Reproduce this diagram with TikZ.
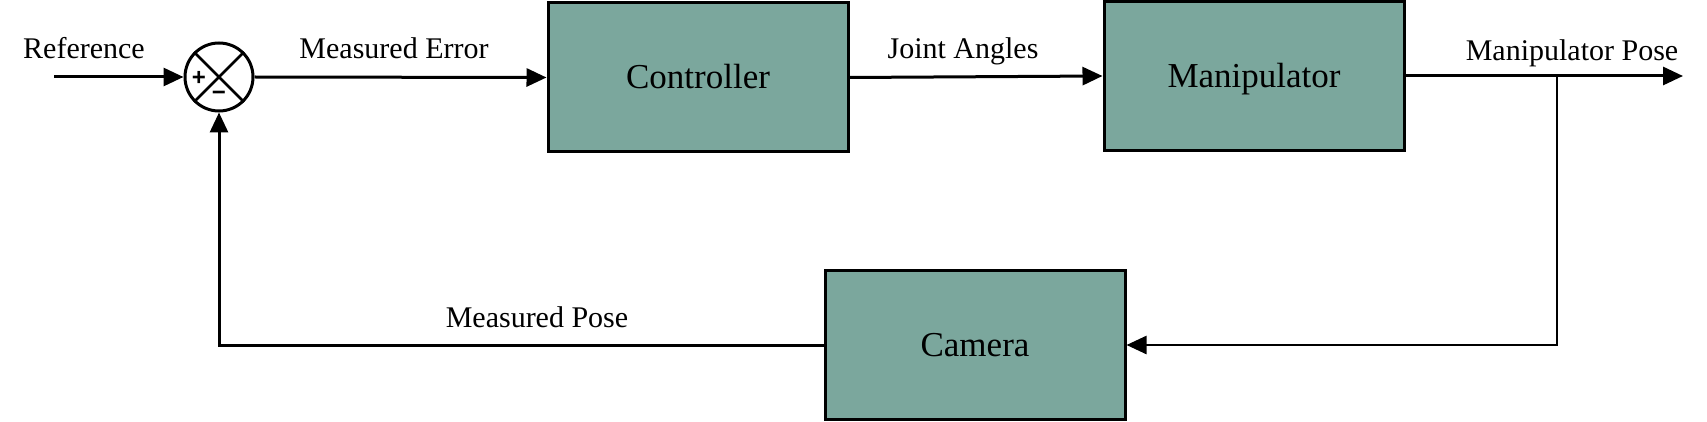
\documentclass[tikz,border=0pt]{standalone}
\usepackage{fontspec}
\setmainfont{Liberation Serif}
\setsansfont{Liberation Sans}
\usetikzlibrary{arrows.meta}
\definecolor{boxgreen}{RGB}{123,167,157}
\begin{document}
\begin{tikzpicture}[x=1pt,y=-1pt,
  blk/.style={draw,line width=3pt,fill=boxgreen,minimum width=300pt,minimum height=149pt,inner sep=0,text height=23pt,text depth=0pt,font=\fontsize{35}{40}\selectfont},
  lbl/.style={font=\fontsize{30}{36}\selectfont,inner sep=0,text height=20pt,text depth=0pt},
  sgn/.style={font=\fontsize{24}{28}\selectfont\sffamily\bfseries,inner sep=0},
  conn/.style={line width=3pt,-{Triangle[length=20pt,width=18pt]}},
  ]
\useasboundingbox (0,0) rectangle (1707,422);
% blocks
\node[blk] (ctrl) at (698,77.5) {Controller};
\node[blk] (manip) at (1254,76) {Manipulator};
\node[blk] (cam) at (975,345) {Camera};
% summing junction
\node[circle,draw,line width=3pt,minimum size=68pt,inner sep=0,fill=white] (sum) at (219,77) {};
\draw[line width=2.5pt] (sum.north west) -- (sum.south east);
\draw[line width=2.5pt] (sum.north east) -- (sum.south west);
\node[sgn] (plus) at (199,78) {+};
\node[sgn] (minus) at (219,96) {\textminus};
% coordinates
\coordinate (refin) at (54,77);
\coordinate (branch) at (1557,76);
\coordinate (out) at (1683,76);
% connectors
\draw[conn] (refin) -- (sum.west);
\draw[conn] (sum.east) -- (ctrl.west);
\draw[conn] (ctrl.east) -- (manip.west);
\draw[conn] (manip.east) -- (out);
\draw[conn,line width=2.5pt] (branch) |- (cam.east);
\draw[conn] (cam.west) -| (sum.south);
% labels
\node[lbl] (lref) at (84,49) {Reference};
\node[lbl] (lerr) at (394,49) {Measured Error};
\node[lbl] (ljoint) at (963,49) {Joint Angles};
\node[lbl] (lpose) at (1572,51) {Manipulator Pose};
\node[lbl] (lmeas) at (537,317) {Measured Pose};
\end{tikzpicture}
\end{document}
